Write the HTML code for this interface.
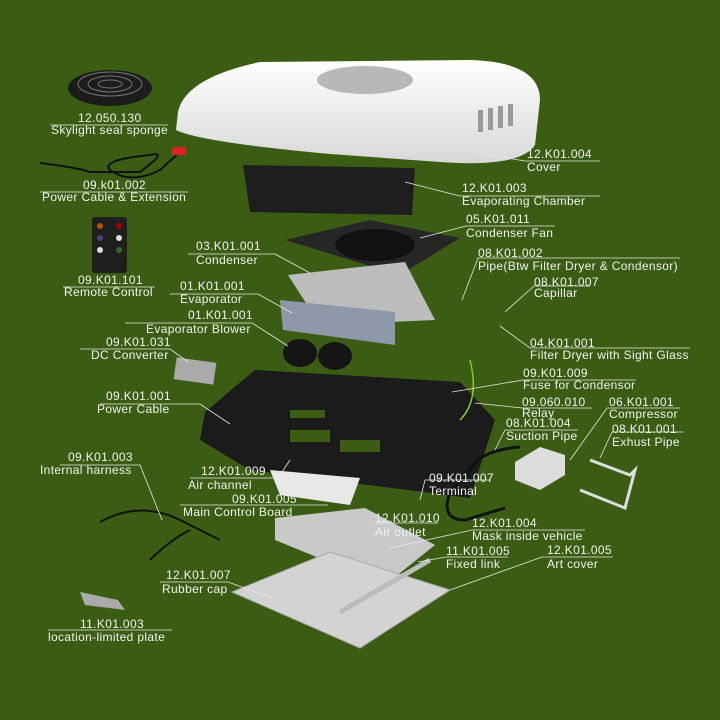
<!DOCTYPE html>
<html><head><meta charset="utf-8"><style>
html,body{margin:0;padding:0;background:#3b5d13;}
svg{display:block}
text{font-family:"Liberation Sans",sans-serif;font-size:12px;letter-spacing:0.35px;fill:#f2f2f2;}
.l{stroke:#e8e8e8;stroke-width:0.8;fill:none}
</style></head><body>
<svg width="720" height="720" viewBox="0 0 720 720">
<defs>
<linearGradient id="cg" x1="0" y1="0" x2="0" y2="1"><stop offset="0" stop-color="#ffffff"/><stop offset="1" stop-color="#d8d8d8"/></linearGradient>
</defs>
<rect width="720" height="720" fill="#3b5d13"/>
<!-- sponge -->
<ellipse cx="110" cy="88" rx="42" ry="18" fill="#1c1c1c"/>
<ellipse cx="110" cy="84" rx="32" ry="12" fill="none" stroke="#777" stroke-width="1"/>
<ellipse cx="110" cy="84" rx="22" ry="8" fill="none" stroke="#777" stroke-width="1"/>
<ellipse cx="110" cy="84" rx="12" ry="4" fill="none" stroke="#777" stroke-width="1"/>
<!-- power cable -->
<path d="M40 163 Q80 168 90 172 L140 172 Q170 150 150 155 Q100 160 110 170 Q130 185 160 170 L180 152" stroke="#111" stroke-width="2" fill="none"/>
<rect x="172" y="147" width="14" height="8" fill="#d22"/>
<!-- remote -->
<rect x="92" y="217" width="35" height="56" rx="3" fill="#1e1e1e"/>
<circle cx="100" cy="226" r="3" fill="#b50"/><circle cx="119" cy="226" r="3" fill="#a00"/>
<circle cx="100" cy="238" r="3" fill="#447"/><circle cx="119" cy="238" r="3" fill="#ddd"/>
<circle cx="100" cy="250" r="3" fill="#ddd"/><circle cx="119" cy="250" r="3" fill="#363"/>
<!-- cover -->
<path d="M178 112 Q185 78 260 62 L470 60 Q540 62 540 100 L535 145 Q520 168 440 162 L330 154 Q200 142 176 130 Z" fill="url(#cg)"/>
<ellipse cx="365" cy="80" rx="48" ry="14" fill="#b8b8b8"/>
<g fill="#9a9a9a"><rect x="478" y="110" width="5" height="22"/><rect x="488" y="108" width="5" height="22"/><rect x="498" y="106" width="5" height="22"/><rect x="508" y="104" width="5" height="22"/></g>
<!-- chamber -->
<path d="M243 165 L415 168 L412 215 L250 212 Z" fill="#1e1e1e"/>
<!-- fan -->
<path d="M285 240 L370 220 L460 238 L400 275 Z" fill="#262626"/>
<ellipse cx="375" cy="245" rx="40" ry="16" fill="#111"/>
<!-- condenser -->
<path d="M288 275 L405 262 L435 320 L320 325 Z" fill="#bdbdbd"/>
<!-- evaporator -->
<path d="M280 300 L395 312 L395 345 L283 330 Z" fill="#8e98a8"/>
<!-- blower -->
<ellipse cx="300" cy="353" rx="17" ry="14" fill="#151515"/><ellipse cx="335" cy="356" rx="17" ry="14" fill="#151515"/>
<!-- dc converter -->
<rect x="175" y="360" width="40" height="22" fill="#aaa" transform="rotate(8 195 371)"/>
<!-- base plate -->
<path d="M205 412 L255 370 L460 382 L495 420 L470 498 L250 470 L200 440 Z" fill="#1b1b1b"/>
<g fill="#3b5d13"><rect x="290" y="430" width="40" height="12"/><rect x="340" y="440" width="40" height="12"/><rect x="290" y="410" width="35" height="8"/></g>
<!-- air channel -->
<path d="M270 470 L360 478 L350 505 L280 495 Z" fill="#e8e8e8"/>
<!-- main board -->
<rect x="330" y="515" width="28" height="12" fill="#6c3"/>
<!-- mask -->
<path d="M275 518 L365 508 L435 545 L385 585 L275 540 Z" fill="#c9c9c9"/>
<!-- art cover -->
<path d="M232 592 L330 552 L450 590 L360 648 Z" fill="#d3d3d3" stroke="#aaa"/>
<path d="M340 612 L430 560" stroke="#bbb" stroke-width="5"/>
<!-- compressor -->
<path d="M515 462 L540 447 L565 455 L565 475 L540 490 L515 480 Z" fill="#ddd"/>
<!-- exhaust pipe -->
<path d="M590 460 L630 475 L635 470 L625 508 L580 490" stroke="#ddd" stroke-width="3" fill="none"/>
<!-- suction pipe -->
<path d="M450 492 L470 470 Q480 450 520 447 M450 492 Q440 520 465 520 L505 508" stroke="#111" stroke-width="3" fill="none"/>
<!-- harness -->
<path d="M100 522 Q140 500 180 520 Q200 530 220 540 M150 560 Q170 540 190 530" stroke="#111" stroke-width="2" fill="none"/>
<!-- location plate -->
<path d="M80 592 L118 600 L125 610 L85 605 Z" fill="#aaa"/>
<!-- green wire -->
<path d="M470 360 Q480 400 460 420" stroke="#8c3" stroke-width="1.5" fill="none"/>

<!-- leader lines -->
<g class="l">
<path d="M50 125H168"/><path d="M40 192H188"/><path d="M63 287H155"/>
<path d="M600 161H525L460 150"/><path d="M600 196H460L405 182"/><path d="M555 226H466L420 238"/>
<path d="M188 254H275L310 273"/><path d="M680 258H478L462 300"/><path d="M170 294H258L292 313"/>
<path d="M590 286H534L505 312"/><path d="M125 323H252L288 346"/><path d="M80 349H170L188 362"/>
<path d="M690 348H530L500 326"/><path d="M636 380H523L452 392"/><path d="M100 404H200L230 424"/>
<path d="M592 408H522L475 403"/><path d="M680 408H607L570 460"/><path d="M578 430H505L495 450"/>
<path d="M683 432H612L600 458"/><path d="M60 465H140L162 520"/><path d="M190 478H278L290 460"/>
<path d="M490 480H425L420 500"/><path d="M180 505H328"/><path d="M375 523H438"/>
<path d="M585 530H472L390 548"/><path d="M508 557H446L418 562"/><path d="M613 557H542L450 590"/>
<path d="M160 582H228L272 598"/><path d="M48 630H172"/>
</g>

<text x="78" y="122">12.050.130</text><text x="51" y="134">Skylight seal sponge</text>
<text x="83" y="189">09.k01.002</text><text x="42" y="201">Power Cable &amp; Extension</text>
<text x="78" y="284">09.K01.101</text><text x="64" y="296">Remote Control</text>
<text x="527" y="158">12.K01.004</text><text x="527" y="171">Cover</text>
<text x="462" y="192">12.K01.003</text><text x="462" y="205">Evaporating Chamber</text>
<text x="466" y="223">05.K01.011</text><text x="466" y="237">Condenser Fan</text>
<text x="196" y="250">03.K01.001</text><text x="196" y="264">Condenser</text>
<text x="478" y="257">08.K01.002</text><text x="478" y="270">Pipe(Btw Filter Dryer &amp; Condensor)</text>
<text x="180" y="290">01.K01.001</text><text x="180" y="303">Evaporator</text>
<text x="534" y="286">08.K01.007</text><text x="534" y="297">Capillar</text>
<text x="188" y="319">01.K01.001</text><text x="146" y="333">Evaporator Blower</text>
<text x="106" y="346">09.K01.031</text><text x="91" y="359">DC Converter</text>
<text x="530" y="347">04.K01.001</text><text x="530" y="359">Filter Dryer with Sight Glass</text>
<text x="523" y="377">09.K01.009</text><text x="523" y="389">Fuse for Condensor</text>
<text x="106" y="400">09.K01.001</text><text x="97" y="413">Power Cable</text>
<text x="522" y="406">09.060.010</text><text x="522" y="417">Relay</text>
<text x="609" y="406">06.K01.001</text><text x="609" y="418">Compressor</text>
<text x="506" y="427">08.K01.004</text><text x="506" y="440">Suction Pipe</text>
<text x="612" y="433">08.K01.001</text><text x="612" y="446">Exhust Pipe</text>
<text x="68" y="461">09.K01.003</text><text x="40" y="474">Internal harness</text>
<text x="201" y="475">12.K01.009</text><text x="188" y="489">Air channel</text>
<text x="429" y="482">09.K01.007</text><text x="429" y="495">Terminal</text>
<text x="232" y="503">09.K01.005</text><text x="183" y="516">Main Control Board</text>
<text x="375" y="522">12.K01.010</text><text x="375" y="536">Air outlet</text>
<text x="472" y="527">12.K01.004</text><text x="472" y="540">Mask inside vehicle</text>
<text x="446" y="555">11.K01.005</text><text x="446" y="568">Fixed link</text>
<text x="547" y="554">12.K01.005</text><text x="547" y="568">Art cover</text>
<text x="166" y="579">12.K01.007</text><text x="162" y="593">Rubber cap</text>
<text x="80" y="628">11.K01.003</text><text x="48" y="641">location-limited plate</text>
</svg>
</body></html>
